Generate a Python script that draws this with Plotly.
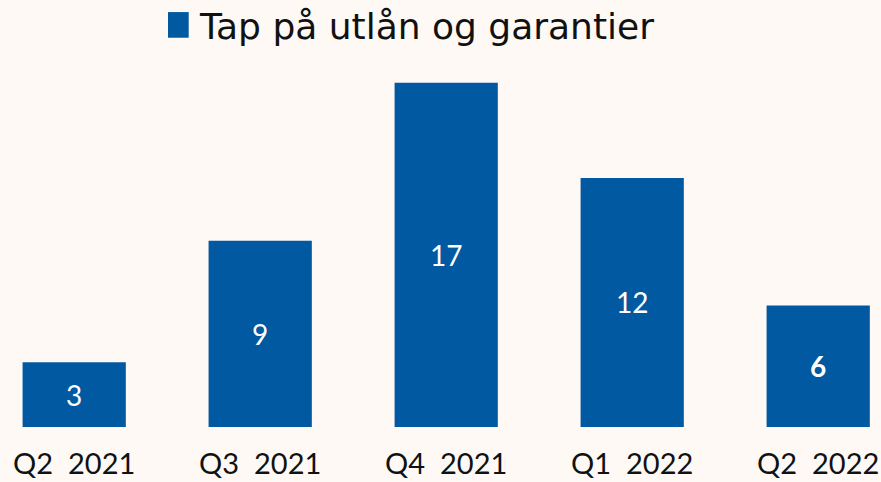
import plotly.graph_objects as go

categories = ["Q2  2021", "Q3  2021", "Q4  2021", "Q1  2022", "Q2  2022"]
values = [3.2, 9.2, 17.0, 12.3, 6.0]
labels = ["3", "9", "17", "12", "<b>6</b>"]
series_name = "Tap på utlån og garantier"

BG = "#FEF9F5"
BLUE = "#0059A1"
W, H = 881, 482
top, bottom = 60, 427.5
ph = bottom - top

def py(p):
    return (bottom - p) / ph

fig = go.Figure(go.Bar(
    x=list(range(len(categories))), y=values, text=labels,
    marker=dict(color=BLUE, line=dict(width=0)),
    width=0.555, textposition="inside", insidetextanchor="middle",
    textangle=0, textfont=dict(family="Lato", size=28, color="white"),
    showlegend=False, cliponaxis=False, hoverinfo="skip",
))

fig.update_layout(
    width=W, height=H, paper_bgcolor=BG, plot_bgcolor=BG,
    margin=dict(l=0, r=0, t=top, b=H - bottom, pad=0),
    xaxis=dict(range=[-74.2 / 186, (W - 74.2) / 186], tickmode="array",
               tickvals=list(range(len(categories))), ticktext=categories,
               showgrid=False, zeroline=False, showline=False, ticks="",
               ticklabelstandoff=17,
               tickfont=dict(family="Lato", size=29, color="#111111")),
    yaxis=dict(range=[0, ph / 20.28], visible=False, showgrid=False, zeroline=False),
    shapes=[dict(type="rect", xref="paper", yref="paper",
                 x0=168 / W, x1=188.7 / W, y0=py(37.7), y1=py(12),
                 fillcolor=BLUE, line=dict(width=0))],
    annotations=[dict(text=series_name, xref="paper", yref="paper",
                      x=197 / W, y=py(26.5), xanchor="left", yanchor="middle",
                      showarrow=False, font=dict(family="DejaVu Sans", size=36, color="#111111"))],
)

fig.write_html("out.html", config={"displayModeBar": False},
               post_script="document.body.style.margin='0';document.body.style.background='%s';document.body.style.overflow='hidden';" % BG)
